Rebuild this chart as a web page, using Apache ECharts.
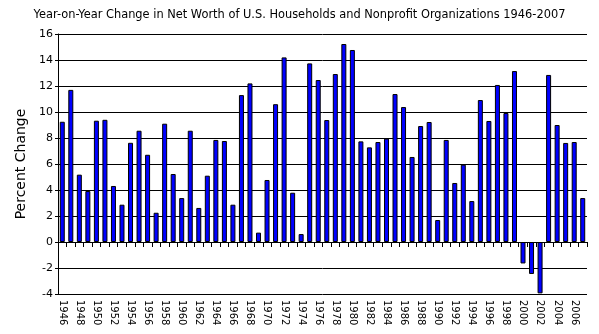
<!DOCTYPE html>
<html>
<head>
<meta charset="utf-8">
<script src="https://cdn.jsdelivr.net/npm/echarts@6/dist/echarts.min.js"></script>
<style>
  html, body { margin: 0; padding: 0; background: #fff; }
  #chart { width: 599px; height: 334px; }
</style>
</head>
<body>
<div id="chart"></div>
<script>
// Annual percent change in net worth, households and nonprofits
const years = [];
for (let y = 1946; y <= 2007; y++) years.push(String(y));

const pctChange = [
  9.25, 11.7, 5.18, 3.92, 9.33, 9.4, 4.31, 2.87, 7.63, 8.56,
  6.71, 2.25, 9.1, 5.23, 3.38, 8.56, 2.62, 5.1, 7.85, 7.77,
  2.87, 11.3, 12.2, 0.72, 4.77, 10.6, 14.2, 3.79, 0.61, 13.74,
  12.46, 9.38, 12.92, 15.23, 14.77, 7.74, 7.28, 7.69, 7.95, 11.38,
  10.38, 6.54, 8.92, 9.23, 1.69, 7.85, 4.54, 5.95, 3.15, 10.92,
  9.31, 12.08, 9.92, 13.15, -1.65, -2.46, -3.95, 12.85, 9.0, 7.62,
  7.69, 3.38
];

const titleText = 'Year-on-Year Change in Net Worth of U.S. Households and Nonprofit Organizations 1946-2007';
const yAxisName = 'Percent Change';
const font = 'DejaVu Sans';

const chart = echarts.init(document.getElementById('chart'), null, { renderer: 'canvas' });
chart.setOption({
  animation: false,
  backgroundColor: '#ffffff',
  title: {
    text: titleText,
    left: 'center',
    top: 5,
    textStyle: { fontFamily: font, fontSize: 11.4, fontWeight: 'normal', color: '#000' }
  },
  grid: { left: 58, right: 12, top: 34, bottom: 40 },
  xAxis: {
    type: 'category',
    data: years,
    boundaryGap: true,
    axisLine: { show: true, lineStyle: { color: '#000', width: 1 } },
    axisTick: { show: true, interval: 0, length: 5, lineStyle: { color: '#000' } },
    axisLabel: {
      interval: 1,
      rotate: -90,
      fontFamily: font,
      fontSize: 10,
      color: '#000',
      margin: 6
    },
    splitLine: { show: false }
  },
  yAxis: {
    type: 'value',
    min: -4,
    max: 16,
    interval: 2,
    name: yAxisName,
    nameLocation: 'middle',
    nameGap: 29,
    nameTextStyle: { fontFamily: font, fontSize: 14, color: '#000' },
    axisLine: { show: true, lineStyle: { color: '#000', width: 1 } },
    axisTick: { show: true, length: 3, lineStyle: { color: '#000' } },
    axisLabel: { fontFamily: font, fontSize: 11, color: '#000', margin: 5 },
    splitLine: { show: true, lineStyle: { color: '#000', width: 1 } }
  },
  series: [{
    type: 'bar',
    data: pctChange,
    barWidth: 5,
    itemStyle: { color: '#0000ff', borderColor: '#000', borderWidth: 1 }
  }]
});
</script>
</body>
</html>
